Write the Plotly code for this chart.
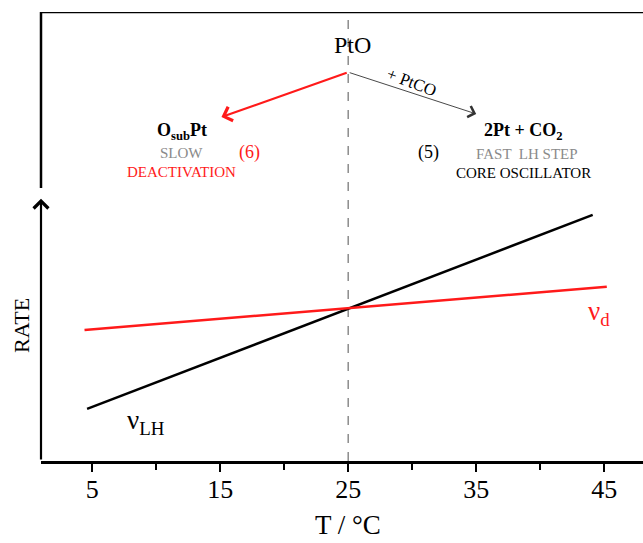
import plotly.graph_objects as go

# ---- data (arbitrary rate units vs temperature) ----
T_lh = [4.6, 44.1]
rate_lh = [11.6, 54.8]
T_d = [4.4, 45.2]
rate_d = [29.2, 38.8]
T_cross = 25
x_ticks = [5, 15, 25, 35, 45]
x_minor = [10, 20, 30, 40]
x_range = [1, 48.03]
y_range = [0, 100]

# scheme points
apex = (25, 86.6)          # PtO
red_end = (15.1, 76.6)     # -> OsubPt
black_end = (35.0, 77.3)   # -> 2Pt + CO2

FONT = "Liberation Serif"
RED = "#ff1a1a"
GRAY = "#8a8a8a"

fig = go.Figure()
fig.add_trace(go.Scatter(x=T_lh, y=rate_lh, mode="lines",
                         line=dict(color="black", width=2.5), showlegend=False, hoverinfo="skip"))
fig.add_trace(go.Scatter(x=T_d, y=rate_d, mode="lines",
                         line=dict(color=RED, width=2.5), showlegend=False, hoverinfo="skip"))

shapes = [
    dict(type="line", xref="x", yref="y", x0=T_cross, x1=T_cross, y0=0, y1=100,
         line=dict(color="#8c8c8c", width=1.5, dash="dash"), layer="below"),
    dict(type="line", xref="paper", yref="y", x0=0, x1=1, y0=100, y1=100,
         line=dict(color="black", width=2.5)),
    dict(type="line", xref="paper", yref="y", x0=0, x1=0, y0=60.8, y1=100,
         line=dict(color="black", width=2.5)),
]

ann = []
ann.append(dict(xref="x", yref="y", axref="x", ayref="y", x=1, y=58.4, ax=1, ay=0,
                showarrow=True, arrowhead=4, arrowsize=1.3, arrowwidth=2.2, arrowcolor="black", text=""))
ann.append(dict(xref="x", yref="y", axref="x", ayref="y", x=red_end[0], y=red_end[1],
                ax=apex[0], ay=apex[1], showarrow=True, arrowhead=4, arrowsize=1.3,
                arrowwidth=2.2, arrowcolor=RED, text=""))
ann.append(dict(xref="x", yref="y", axref="x", ayref="y", x=black_end[0], y=black_end[1],
                ax=apex[0], ay=apex[1], showarrow=True, arrowhead=4, arrowsize=2.5,
                arrowwidth=0.9, arrowcolor="#333", text=""))

def txt(x, y, s, size, color="black", angle=0):
    ann.append(dict(xref="x", yref="y", x=x, y=y, text=s, showarrow=False, textangle=angle,
                    font=dict(family=FONT, size=size, color=color),
                    xanchor="center", yanchor="middle"))

txt(25.3, 92.6, "PtO", 24)
txt(30.0, 84.4, "+ PtCO", 17, angle=21)
txt(12.0, 73.3, "<b>O<sub>sub</sub>Pt</b>", 18)
txt(12.0, 68.6, "SLOW", 15, GRAY)
txt(17.3, 68.8, "(6)", 18, RED)
txt(12.0, 64.4, "DEACTIVATION", 15, RED)
txt(31.3, 68.6, "(5)", 18)
txt(38.7, 73.3, "<b>2Pt + CO<sub>2</sub></b>", 18)
txt(39.0, 68.4, "FAST  LH STEP", 15, GRAY)
txt(38.7, 64.1, "CORE OSCILLATOR", 15)
txt(9.2, 8.7, "ν<sub>LH</sub>", 27)
txt(44.6, 33.0, "ν<sub>d</sub>", 27, RED)

ann.append(dict(xref="paper", yref="y", x=-0.0316, y=30.3, text="RATE", textangle=-90,
                showarrow=False, font=dict(family=FONT, size=22, color="black"),
                xanchor="center", yanchor="middle"))
ann.append(dict(xref="x", yref="paper", x=25, y=-0.1425, text="T / °C", showarrow=False,
                font=dict(family=FONT, size=27, color="black"), xanchor="center", yanchor="middle"))

fig.update_layout(
    width=643, height=543,
    margin=dict(l=41, r=0, t=12, b=82),
    paper_bgcolor="white", plot_bgcolor="white",
    font=dict(family=FONT, color="black"),
    shapes=shapes, annotations=ann,
    xaxis=dict(range=x_range, tickvals=x_ticks, ticktext=[str(v) for v in x_ticks],
               showgrid=False, zeroline=False, showline=True, linecolor="black", linewidth=2.5,
               ticks="outside", ticklen=8, tickwidth=2, tickcolor="black",
               ticklabelstandoff=-5,
               minor=dict(ticks="outside", ticklen=6, tickwidth=2, tickcolor="black",
                          tickvals=x_minor),
               tickfont=dict(family=FONT, size=26, color="black")),
    yaxis=dict(range=y_range, visible=False, showgrid=False, zeroline=False),
)

fig.write_html("out.html")
